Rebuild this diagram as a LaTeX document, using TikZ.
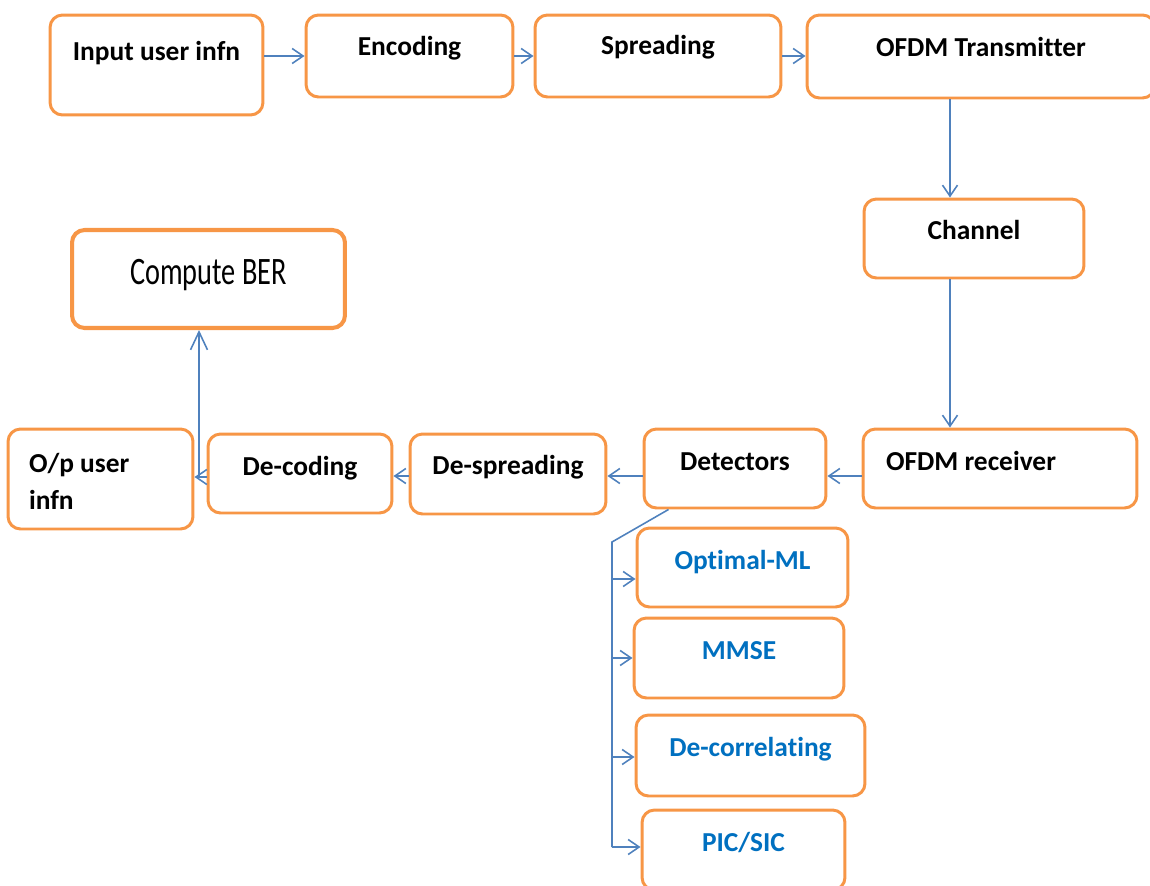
\documentclass[tikz,border=0pt]{standalone}
\usepackage{fontspec}
\setmainfont{Carlito}[Ligatures=NoCommon]
\usepackage{graphicx}
\usetikzlibrary{positioning, arrows.meta}
\definecolor{boxorange}{RGB}{247,150,70}
\definecolor{lineblue}{RGB}{79,129,189}
\definecolor{textblue}{RGB}{0,112,192}

\begin{document}
\begin{tikzpicture}[x=0.02cm,y=-0.02cm,
            box/.style={draw=boxorange,line width=1.7pt,rounded corners=0.25cm,
                        fill=white,inner sep=0pt,align=center,
                        font=\fontsize{15.6}{19}\selectfont\bfseries},
            sz/.style n args={3}{minimum width=#1,text height=#2,text depth=#3},
            det/.style={box,text=textblue},
            arrow/.style={draw=lineblue,line width=0.9pt,
                          -{Straight Barb[length=2.2mm,width=3mm]}},
            line/.style={draw=lineblue,line width=0.9pt}]
        \useasboundingbox (0,0) rectangle (1150,886);
        \node[box,sz={4.26cm}{0.90cm}{1.10cm}] (inp) at (156.5,65) {Input user infn};
        \node[box,sz={4.14cm}{0.80cm}{0.84cm}] (enc) at (409.5,56) {Encoding};
        \node[box,sz={4.92cm}{0.78cm}{0.86cm}] (spr) at (658,56) {Spreading};
        \node[box,sz={6.96cm}{0.82cm}{0.84cm}] (tx) at (981,56.5) {OFDM Transmitter};
        \node[box,sz={4.40cm}{0.80cm}{0.78cm}] (chan) at (974,238.5) {Channel};
        \node[box,line width=2.3pt,sz={5.46cm}{1.08cm}{0.88cm},
              font=\fontsize{15.8}{19}\selectfont] (ber) at (208.5,279)
            {\scalebox{1.02}[1.4]{Compute BER}};
        \node[box,align=flush left,text width=2.86cm,inner xsep=0.42cm,
              text height=0.86cm,text depth=1.14cm,
              font=\fontsize{15.6}{21.5}\selectfont\bfseries] (op) at (100.5,479)
            {\spaceskip=0pt\relax O/p user\\infn};
        \node[box,sz={3.68cm}{0.82cm}{0.76cm}] (dec) at (300,473.5) {De-coding};
        \node[box,sz={3.92cm}{0.80cm}{0.80cm}] (dsp) at (508,474) {De-spreading};
        \node[box,sz={3.64cm}{0.82cm}{0.76cm}] (dets) at (735,468.5) {Detectors};
        \node[box,align=flush left,text width=4.56cm,inner xsep=0.46cm,
              text height=0.82cm,text depth=0.76cm] (rx) at (1000,468.5)
            {\spaceskip=0pt\relax OFDM receiver};
        \node[det,sz={4.22cm}{0.82cm}{0.76cm}] (oml) at (742.5,567.5) {Optimal-ML};
        \node[det,sz={4.20cm}{0.82cm}{0.78cm}] (mmse) at (739,658) {MMSE};
        \node[det,sz={4.58cm}{0.82cm}{0.80cm}] (dcor) at (750.5,755.5) {De-correlating};
        \node[det,sz={4.06cm}{0.82cm}{0.78cm}] (pic) at (743.5,850) {PIC/SIC};
        \coordinate (col) at (950,0);
        \coordinate (row) at (0,476);
        \coordinate (up) at (199,477);
        \coordinate (br) at (612,542);
        \draw[arrow] (inp.east |- enc.west) -- (enc.west);
        \draw[arrow] (enc) -- (spr);
        \draw[arrow] (spr.east) -- (tx.west |- spr.east);
        \draw[arrow] (tx.south -| col) -- (chan.north -| col);
        \draw[arrow] (chan.south -| col) -- (rx.north -| col);
        \draw[arrow] (rx.west |- row) -- (dets.east |- row);
        \draw[arrow] (dets.west |- row) -- (dsp.east |- row);
        \draw[arrow] (dsp.west |- row) -- (dec.east |- row);
        \draw[arrow] (dec.west |- up) -- (op.east |- up);
        \draw[arrow,-{Straight Barb[length=3.6mm,width=3.4mm]}] (up) -- (up |- ber.south);
        \draw[line] ([xshift=0.52cm]dets.south west) -- (br) -- (br |- 0,847);
        \foreach \b/\y in {oml/579,mmse/658,dcor/757,pic/847}{
            \coordinate (t\b) at (612,\y);
            \draw[arrow] (t\b) -- (t\b -| \b.west);
        }
\end{tikzpicture}
\end{document}
